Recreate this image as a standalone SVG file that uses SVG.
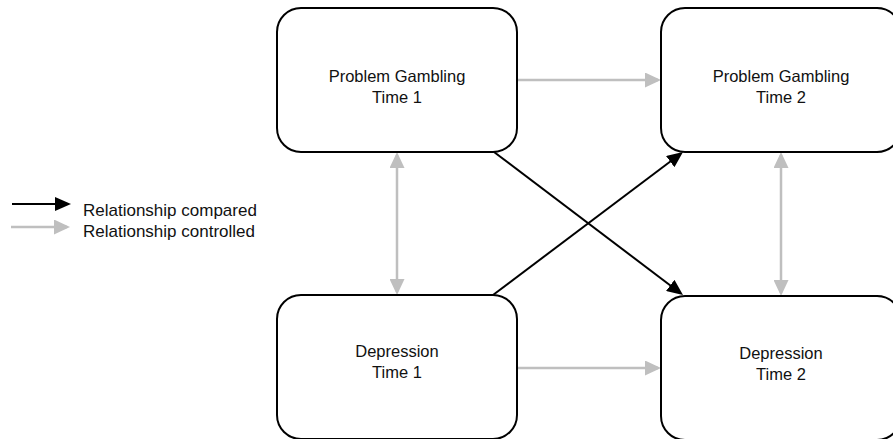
<svg xmlns="http://www.w3.org/2000/svg" width="893" height="439" viewBox="0 0 893 439">
<style>
.box{fill:#fff;stroke:#000;stroke-width:2}
.t{font-family:"Liberation Sans",Arial,sans-serif;font-size:16.5px;fill:#111}
.l{font-size:17px}
.c{text-anchor:middle}
.blk{stroke:#000;stroke-width:2;fill:none}
.gry{stroke:#BFBFBF;stroke-width:2.5;fill:none}
</style>
<defs>
<marker id="ab" markerUnits="userSpaceOnUse" markerWidth="16" markerHeight="14" refX="13" refY="7" orient="auto">
<path d="M0,0 L16,7 L0,14 z" fill="#000"/>
</marker>
<marker id="ag" markerUnits="userSpaceOnUse" markerWidth="16" markerHeight="15" refX="13" refY="7.5" orient="auto-start-reverse">
<path d="M0,0 L16,7.5 L0,15 z" fill="#BFBFBF"/>
</marker>
</defs>
<rect width="893" height="439" fill="#fff"/>
<g id="connectors">
<line class="gry" x1="518" y1="80" x2="658" y2="80" marker-end="url(#ag)"/>
<line class="gry" x1="518" y1="368" x2="658" y2="368" marker-end="url(#ag)"/>
<line class="gry" x1="397" y1="155" x2="397" y2="292" marker-start="url(#ag)" marker-end="url(#ag)"/>
<line class="gry" x1="781" y1="155" x2="781" y2="293" marker-start="url(#ag)" marker-end="url(#ag)"/>
<line class="blk" x1="494" y1="152" x2="680.6" y2="293.2" marker-end="url(#ab)"/>
<line class="blk" x1="493" y1="295" x2="680.6" y2="153.8" marker-end="url(#ab)"/>
</g>
<g id="pg1">
<rect class="box" x="277" y="8" width="240" height="144" rx="24" ry="24"/>
<text class="t c" x="397" y="82">Problem Gambling</text>
<text class="t c" x="397" y="103">Time 1</text>
</g>
<g id="pg2">
<rect class="box" x="661" y="8" width="240" height="144" rx="24" ry="24"/>
<text class="t c" x="781" y="82">Problem Gambling</text>
<text class="t c" x="781" y="103">Time 2</text>
</g>
<g id="d1">
<rect class="box" x="277" y="295" width="240" height="144" rx="24" ry="24"/>
<text class="t c" x="397" y="357">Depression</text>
<text class="t c" x="397" y="378">Time 1</text>
</g>
<g id="d2">
<rect class="box" x="661" y="296" width="240" height="144" rx="24" ry="24"/>
<text class="t c" x="781" y="359">Depression</text>
<text class="t c" x="781" y="380">Time 2</text>
</g>
<g id="legend">
<line class="blk" x1="12" y1="204" x2="68" y2="204" marker-end="url(#ab)"/>
<line class="gry" x1="11" y1="227" x2="67" y2="227" marker-end="url(#ag)"/>
<text class="t l" x="83" y="216">Relationship compared</text>
<text class="t l" x="83" y="237">Relationship controlled</text>
</g>
</svg>
